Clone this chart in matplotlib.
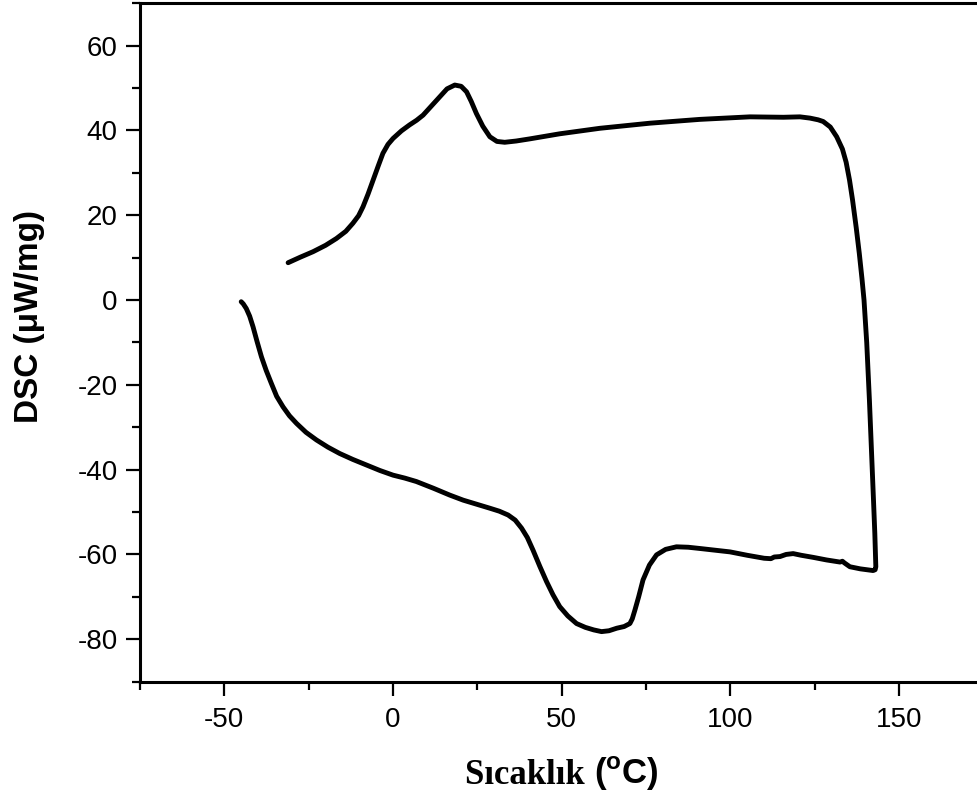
import matplotlib

matplotlib.use("Agg")
import matplotlib.pyplot as plt
from matplotlib.offsetbox import TextArea, HPacker, AnnotationBbox

plt.rcParams["axes.unicode_minus"] = False
plt.rcParams["mathtext.fontset"] = "custom"
plt.rcParams["mathtext.rm"] = "Liberation Sans:bold"
plt.rcParams["mathtext.bf"] = "Liberation Sans:bold"

# 一条连续的 DSC 曲线：上支从左往右，右侧下降，下支从右往左
temperature = [
    -31.1, -27.5, -23.7, -20.0, -16.8, -14.0, -11.9, -10.2, -8.9, -7.4, -5.9,
    -4.4, -3.0, -1.5, 0.0, 2.5, 4.9, 7.0, 8.9, 11.3, 13.8, 16.0, 18.3, 20.2,
    21.8, 23.2, 24.7, 26.6, 28.7, 30.8, 33.1, 36.5, 40.5, 49.4, 61.3, 76.1,
    90.9, 105.8, 115.7, 120.6, 123.6, 126.0, 127.5, 129.6, 131.5, 133.2, 134.3,
    135.3, 136.2, 137.3, 138.2, 139.0, 139.6, 140.4, 141.2, 141.8, 142.4, 142.8,
    143.1, 142.9, 142.3, 138.5, 135.4, 134.5, 133.8, 133.2, 132.5, 128.5, 124.6,
    121.0, 118.6, 116.5, 114.7, 113.0, 112.0, 110.0, 105.0, 99.9, 95.5, 91.0,
    87.5, 84.0, 80.8, 78.1, 76.0, 74.1, 72.8, 71.7, 70.9, 70.2, 68.5, 66.3,
    64.0, 61.8, 59.5, 57.0, 54.4, 51.8, 49.4, 47.4, 45.5, 43.5, 41.5, 39.8,
    38.1, 36.2, 34.1, 31.5, 28.7, 24.5, 20.8, 16.8, 12.0, 6.9, 3.5, 0.0,
    -3.9, -7.9, -11.9, -15.8, -19.3, -22.7, -25.8, -28.6, -30.7, -32.6, -34.5,
    -36.1, -37.6, -39.0, -40.3, -41.5, -42.5, -43.5, -44.4, -45.0,
]
dsc = [
    8.8, 10.1, 11.4, 12.9, 14.5, 16.2, 18.1, 19.9, 22.0, 25.0, 28.3,
    31.6, 34.6, 36.7, 38.1, 39.9, 41.3, 42.4, 43.6, 45.7, 47.9, 49.8, 50.7, 50.4,
    49.1, 46.8, 44.0, 41.0, 38.5, 37.4, 37.2, 37.5, 38.0, 39.2, 40.5, 41.7,
    42.6, 43.2, 43.1, 43.2, 42.9, 42.5, 42.1, 40.8, 38.5, 35.6, 32.5,
    28.3, 23.6, 17.0, 11.0, 5.0, 0.0, -10.0, -23.6, -35.0, -47.0, -55.0,
    -62.9, -63.6, -63.8, -63.4, -62.9, -62.4, -62.0, -61.6, -61.8, -61.3, -60.7,
    -60.2, -59.8, -60.0, -60.5, -60.6, -61.0, -60.9, -60.2, -59.4, -59.0, -58.6,
    -58.3, -58.2, -58.8, -60.1, -62.5, -66.0, -70.0, -73.1, -75.2, -76.3, -77.0, -77.4,
    -78.0, -78.2, -77.8, -77.2, -76.3, -74.5, -72.3, -69.5, -66.4, -62.8, -59.0, -56.0,
    -53.8, -51.9, -50.7, -49.8, -49.1, -48.1, -47.2, -46.0, -44.4, -42.8, -42.0, -41.3,
    -40.2, -38.9, -37.6, -36.2, -34.7, -33.0, -31.2, -29.1, -27.3, -25.2, -22.7,
    -19.6, -16.6, -13.4, -9.8, -6.3, -3.8, -2.0, -0.9, -0.4,
]

x_major = [-50, 0, 50, 100, 150]
x_minor = [-75, -25, 25, 75, 125, 175]
y_major = [-80, -60, -40, -20, 0, 20, 40, 60]
y_minor = [-90, -70, -50, -30, -10, 10, 30, 50, 70]

fig = plt.figure(figsize=(9.77, 8.01), dpi=100)
ax = fig.add_axes([0.1433, 0.149, 0.8633, 0.847])

ax.plot(temperature, dsc, color="black", linewidth=3.5,
        solid_capstyle="round", solid_joinstyle="round")

ax.set_xlim(-75, 175)
ax.set_ylim(-90, 70)
ax.set_xticks(x_major)
ax.set_xticks(x_minor, minor=True)
ax.set_yticks(y_major)
ax.set_yticks(y_minor, minor=True)

ax.spines["right"].set_visible(False)
for side in ("left", "bottom", "top"):
    ax.spines[side].set_linewidth(2.2)

ax.tick_params(which="both", direction="out", width=1.6, top=False, right=False)
ax.tick_params(which="major", length=10, pad=6)
ax.tick_params(axis="x", which="major", pad=8)
ax.tick_params(which="minor", length=5.5)
for lab in ax.get_xticklabels() + ax.get_yticklabels():
    lab.set_family("Liberation Sans")
    lab.set_fontsize(20)

ax.set_ylabel("DSC (μW/mg)", family="Liberation Sans", fontweight="bold", fontsize=24)
ax.yaxis.set_label_coords(-0.113, 0.538)

# x 轴标题：Sıcaklık 用衬线体，(°C) 用无衬线体
xlabel_parts = HPacker(
    children=[
        TextArea("Sıcaklık ", textprops=dict(family="Liberation Serif", fontweight="bold", fontsize=25)),
        TextArea(r"($^{\mathrm{o}}$C)", textprops=dict(family="Liberation Sans", fontweight="bold", fontsize=25)),
    ],
    align="baseline",
    pad=0,
    sep=0,
)
ab = AnnotationBbox(xlabel_parts, (0.575, 0.034), xycoords="figure fraction",
                    frameon=False, box_alignment=(0.5, 0.5))
fig.add_artist(ab)

fig.savefig("out.png", dpi=100)
